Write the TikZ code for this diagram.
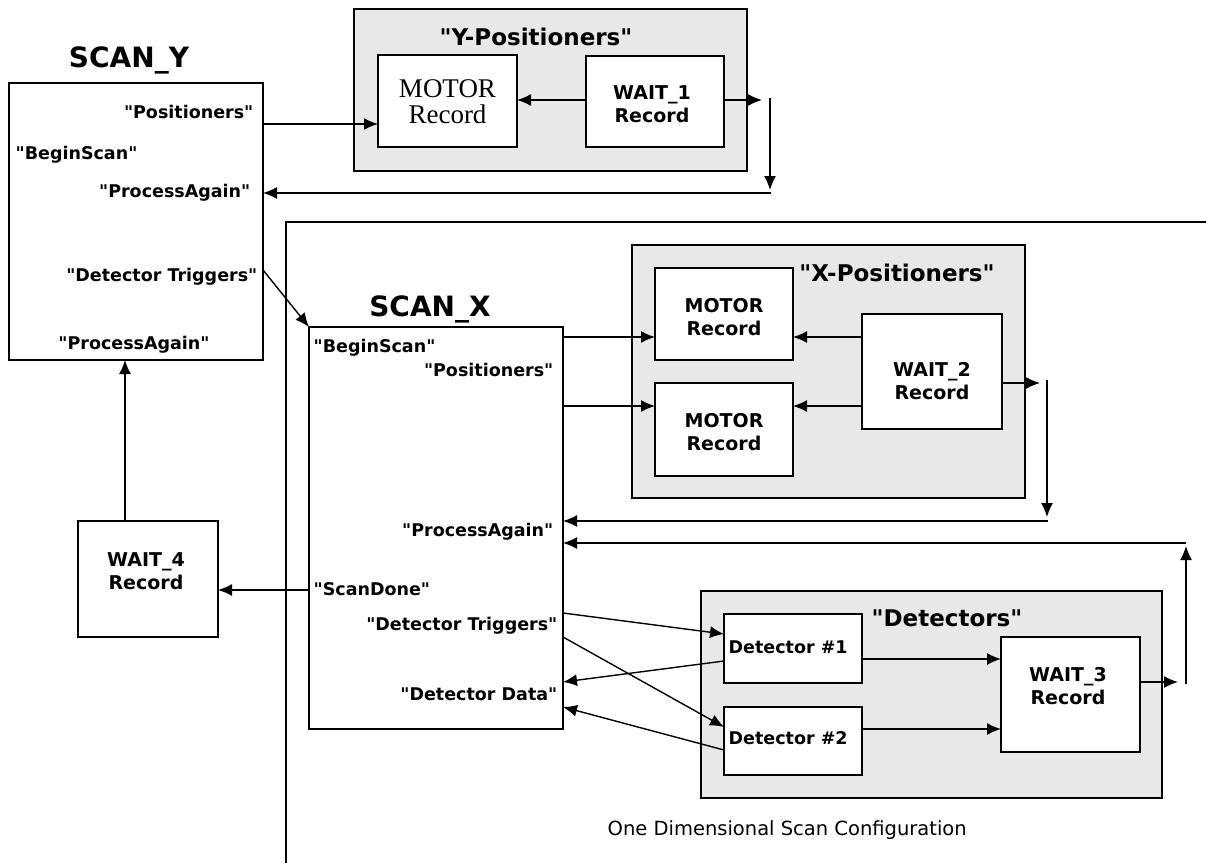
\documentclass[tikz,border=0pt]{standalone}
\usepackage{fontspec}
\setmainfont{DejaVu Sans}
\newfontfamily\dqfont{DejaVu Sans}
\newfontfamily\motorserif{Liberation Serif}
\usetikzlibrary{arrows.meta,calc}
\newcommand\dq{{\dqfont\char34}}
\begin{document}
\begin{tikzpicture}[x=1pt,y=-1pt,
  line width=1.4pt,
  box/.style={draw,fill=white,inner sep=0pt,outer sep=0pt},
  grp/.style={draw,fill=gray!18,inner sep=0pt,outer sep=0pt},
  arr/.style={-{Latex[length=14pt,width=12pt]}},
  port/.style={font=\fontsize{17.5}{20}\selectfont\bfseries,inner sep=0pt},
  blbl/.style={font=\fontsize{19}{23}\selectfont\bfseries,align=center,inner sep=0pt},
  ttl/.style={font=\fontsize{28}{32}\selectfont\bfseries,inner sep=0pt},
  gttl/.style={font=\fontsize{23}{26}\selectfont\bfseries,inner sep=0pt},
  serifl/.style={font=\motorserif\fontsize{27}{26}\selectfont,align=center,inner sep=0pt},
  captext/.style={font=\fontsize{19.5}{22}\selectfont,inner sep=0pt},
]
\useasboundingbox (0,0) rectangle (1206,863);

% outer frame of the X scan
\draw (1206,222) -- (286,222) -- (286,863);

% ---------------- SCAN_Y ----------------
\node[box,minimum width=254,minimum height=277] (scany) at (136,221.5) {};
\node[ttl] (scanyT) at (129,60) {SCAN\_Y};
\node[port,anchor=east] (syPos) at (254,112) {\dq Positioners\dq};
\node[port,anchor=west] (syBeg) at (15,155) {\dq BeginScan\dq};
\node[port,anchor=east] (syPA) at (251,193) {\dq ProcessAgain\dq};
\node[port,anchor=east] (syDT) at (258,277) {\dq Detector Triggers\dq};
\node[port] (syPA2) at (134,345) {\dq ProcessAgain\dq};

% ---------------- Y-Positioners ----------------
\node[grp,minimum width=393,minimum height=162] (ygrp) at (550.5,90) {};
\node[gttl] (ygrpT) at (536,37) {\dq Y-Positioners\dq};
\node[box,minimum width=139,minimum height=92] (ymotor) at (447.5,101) {};
\node[serifl] (ymotorT) at (447.5,102) {MOTOR\\Record};
\node[box,minimum width=138,minimum height=91] (wait1) at (655,101.5) {};
\node[blbl] (wait1T) at (652,104.5) {WAIT\_1\\Record};

\draw[arr] (scany.east |- 0,124) -- (ymotor.west |- 0,124);
\draw[arr] (wait1.west |- 0,100) -- (ymotor.east |- 0,100);
\coordinate (w1out) at (762,100);
\draw[arr] (wait1.east |- w1out) -- (w1out);
\coordinate (ydrop1) at (770,98);
\coordinate (ydrop2) at (770,190);
\draw[arr] (ydrop1) -- (ydrop2);
\coordinate (yret) at (771,193);
\draw[arr] (yret) -- (scany.east |- yret);

% ---------------- SCAN_X ----------------
\node[box,minimum width=254,minimum height=402] (scanx) at (436,528) {};
\node[ttl] (scanxT) at (430,309) {SCAN\_X};
\node[port,anchor=west] (sxBeg) at (313,348) {\dq BeginScan\dq};
\node[port,anchor=east] (sxPos) at (554,370) {\dq Positioners\dq};
\node[port,anchor=east] (sxPA) at (554,532) {\dq ProcessAgain\dq};
\node[port,anchor=west] (sxSD) at (313,589) {\dq ScanDone\dq};
\node[port,anchor=east] (sxDT) at (558,626) {\dq Detector Triggers\dq};
\node[port,anchor=east] (sxDD) at (558,694) {\dq Detector Data\dq};

\draw[arr] (scany.east |- 0,270) -- (scanx.north west);

% ---------------- X-Positioners ----------------
\node[grp,minimum width=393,minimum height=253] (xgrp) at (828.5,371.5) {};
\node[gttl] (xgrpT) at (897,273) {\dq X-Positioners\dq};
\node[box,minimum width=138,minimum height=92] (xm1) at (724,314) {};
\node[blbl] (xm1T) at (724,317.5) {MOTOR\\Record};
\node[box,minimum width=138,minimum height=93] (xm2) at (724,429.5) {};
\node[blbl] (xm2T) at (724,432) {MOTOR\\Record};
\node[box,minimum width=140,minimum height=115] (wait2) at (932,371.5) {};
\node[blbl] (wait2T) at (932,381.5) {WAIT\_2\\Record};

\draw[arr] (scanx.east |- 0,337) -- (xm1.west |- 0,337);
\draw[arr] (scanx.east |- 0,406) -- (xm2.west |- 0,406);
\draw[arr] (wait2.west |- 0,337) -- (xm1.east |- 0,337);
\draw[arr] (wait2.west |- 0,406) -- (xm2.east |- 0,406);
\coordinate (w2out) at (1040,383);
\draw[arr] (wait2.east |- w2out) -- (w2out);
\coordinate (xdrop1) at (1047,380);
\coordinate (xdrop2) at (1047,517);
\draw[arr] (xdrop1) -- (xdrop2);
\coordinate (xret) at (1048,521);
\draw[arr] (xret) -- (scanx.east |- xret);

% ---------------- Detectors ----------------
\node[grp,minimum width=461,minimum height=207] (dgrp) at (931.5,694.5) {};
\node[gttl] (dgrpT) at (947,618) {\dq Detectors\dq};
\node[box,minimum width=138,minimum height=69] (det1) at (793,648.5) {};
\node[port,anchor=west] (det1T) at (728,647) {Detector \#1};
\node[box,minimum width=138,minimum height=68] (det2) at (793,741) {};
\node[port,anchor=west] (det2T) at (728,738) {Detector \#2};
\node[box,minimum width=139,minimum height=115] (wait3) at (1070.5,694.5) {};
\node[blbl] (wait3T) at (1068,686) {WAIT\_3\\Record};

\draw[arr] (det1.east |- 0,659) -- (wait3.west |- 0,659);
\draw[arr] (det2.east |- 0,729) -- (wait3.west |- 0,729);
\coordinate (w3out) at (1178,682);
\draw[arr] (wait3.east |- w3out) -- (w3out);
\coordinate (drise1) at (1186,684);
\coordinate (drise2) at (1186,546);
\draw[arr] (drise1) -- (drise2);
\coordinate (dret) at (1186,543);
\draw[arr] (dret) -- (scanx.east |- dret);

\draw[arr] (scanx.east |- 0,613) -- (det1.west |- 0,634);
\draw[arr] (scanx.east |- 0,637) -- (det2.west |- 0,727);
\draw[arr] (det1.west |- 0,661) -- (scanx.east |- 0,682);
\draw[arr] (det2.west |- 0,750) -- (scanx.east |- 0,707);

% ---------------- WAIT_4 ----------------
\node[box,minimum width=140,minimum height=116] (wait4) at (148,579) {};
\node[blbl] (wait4T) at (146,571) {WAIT\_4\\Record};
\draw[arr] (scanx.west |- 0,590) -- (wait4.east |- 0,590);
\draw[arr] (wait4.north -| 125,0) -- (scany.south -| 125,0);

% caption
\node[captext,anchor=west] (caption) at (607,830) {One Dimensional Scan Configuration};
\end{tikzpicture}
\end{document}
